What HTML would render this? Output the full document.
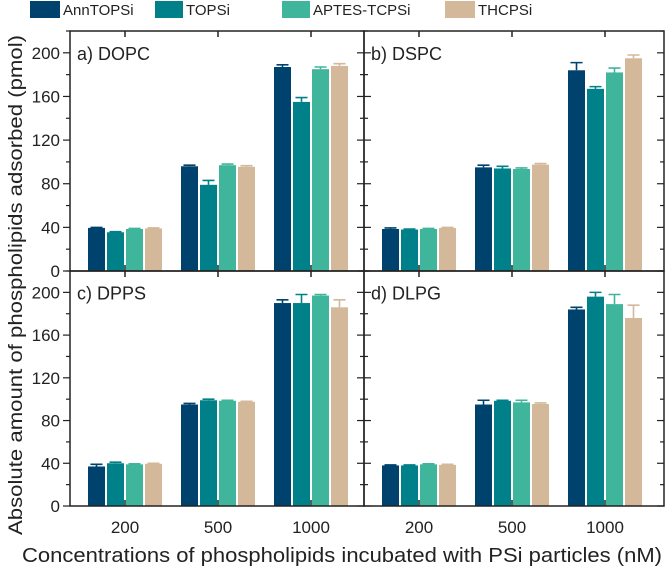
<!DOCTYPE html>
<html><head><meta charset="utf-8"><style>
body{margin:0;background:#fff}
svg{display:block;font-family:"Liberation Sans",sans-serif}
</style></head><body>
<svg id="chart" width="666" height="570" viewBox="0 0 666 570"></svg>
<script>
const categories=["200","500","1000"];
const seriesNames=["AnnTOPSi","TOPSi","APTES-TCPSi","THCPSi"];
const colors=["#00426e","#008088","#3fb59c","#d3b89a"];
const panelTitles=["a) DOPC","b) DSPC","c) DPPS","d) DLPG"];
const yTicks=[0,40,80,120,160,200];
// values[panel][series][category]
const dopcValues=[[39.5,96,187],[35.5,79,155],[38.5,97,185],[39,95.5,188]];
const dopcErrors=[[0.5,1,2],[0.5,4,4],[0.5,1,2],[0.5,1,2]];
const dspcValues=[[38.5,95,184],[38,94,167],[38.5,93.5,182],[39.5,97.5,195]];
const dspcErrors=[[1,2,7],[0.5,2,2],[0.5,1,4],[0.5,1,3]];
const dppsValues=[[37,95,190],[40,99,190],[39,98.5,197],[39.5,97.5,186]];
const dppsErrors=[[2,1,3],[1,1,8],[0.5,0.5,1],[0.5,0.5,7]];
const dlpgValues=[[38,95,184],[38,98.5,196],[39,97,189],[38.5,95.5,176]];
const dlpgErrors=[[0.5,4,2],[0.5,0.5,4],[0.5,2,9],[0.5,1,12]];
const allValues=[dopcValues,dspcValues,dppsValues,dlpgValues];
const allErrors=[dopcErrors,dspcErrors,dppsErrors,dlpgErrors];

const NS="http://www.w3.org/2000/svg";
const svg=document.getElementById('chart');
function mk(tag,attrs,parent){const e=document.createElementNS(NS,tag);for(const k in attrs)e.setAttribute(k,attrs[k]);(parent||svg).appendChild(e);return e;}

const panels=[
 {x0:70,x1:364,y0:31,y1:271},
 {x0:364,x1:664,y0:31,y1:271},
 {x0:70,x1:364,y0:271,y1:506},
 {x0:364,x1:664,y0:271,y1:506}];
const yMax=220;
panels.forEach((p,pi)=>{
  const g=mk('g',{});
  
  
  const yS=v=>p.y1-(v/yMax)*(p.y1-p.y0);
  const xC=i=>p.x0+55+i*93;
  const bw=17,gap=2;
  allValues[pi].forEach((ser,si)=>{
    ser.forEach((v,ci)=>{
      const cx=xC(ci)-2*bw-1.5*gap+si*(bw+gap);
      const r=mk('rect',{x:cx,y:yS(v),width:bw,height:p.y1-yS(v),fill:colors[si]},g);
      
      
      const e=allErrors[pi][si][ci];
      const mx=cx+bw/2;
      const eg=mk('path',{d:`M${mx},${yS(v)}V${yS(v+e)}M${mx-6},${yS(v+e)}H${mx+6}`,stroke:colors[si],'stroke-width':1.6,fill:'none'},g);
      
      
    });
  });
  const fr=mk('rect',{x:p.x0,y:p.y0,width:p.x1-p.x0,height:p.y1-p.y0,fill:'none',stroke:'#222','stroke-width':1.5},g);
  
  
  const left=(pi%2===0);
  for(let v=0;v<=220;v+=20){
    const y=yS(v); const len=(v%40===0)?7:4;
    mk('line',{x1:p.x0,x2:p.x0+(left?-len:len),y1:y,y2:y,stroke:'#222','stroke-width':1.2},g);
    mk('line',{x1:p.x1,x2:p.x1-len,y1:y,y2:y,stroke:'#222','stroke-width':1.2},g);
  }
  if(left){
    yTicks.forEach(v=>{
      const t=mk('text',{x:p.x0-10,y:yS(v)+6,'text-anchor':'end','font-size':17,fill:'#222'},g);
      t.textContent=v;
      
      
    });
  }
  categories.forEach((c,ci)=>{
    mk('line',{x1:xC(ci),x2:xC(ci),y1:p.y1,y2:p.y1-6,stroke:'#222','stroke-width':1.5},g);
    mk('line',{x1:xC(ci),x2:xC(ci),y1:p.y0,y2:p.y0+6,stroke:'#222','stroke-width':1.5},g);
    if(pi>=2){
      const t=mk('text',{x:xC(ci),y:533,'text-anchor':'middle','font-size':17,fill:'#222'},g);
      t.textContent=c;
      
      
    }
  });
  const tt=mk('text',{x:p.x0+7,y:yS(200)+7,'font-size':18,fill:'#222'},g);
  tt.textContent=panelTitles[pi];
  
  
});
const legX=[30,155,282,445];
const legW=[30,28,28,30];
seriesNames.forEach((n,i)=>{
  const g=mk('g',{});
  
  
  mk('rect',{x:legX[i],y:1,width:legW[i],height:17,fill:colors[i]},g);
  const t=mk('text',{x:legX[i]+legW[i]+3,y:15,'font-size':15,fill:'#222'},g);
  t.textContent=n;
});
const yl=mk('text',{x:0,y:0,transform:'translate(22,285) rotate(-90)','text-anchor':'middle','font-size':19,fill:'#222',textLength:500,lengthAdjust:'spacingAndGlyphs'});
yl.textContent='Absolute amount of phospholipids adsorbed (pmol)';


const xl=mk('text',{x:342,y:562,'text-anchor':'middle','font-size':20,fill:'#222',textLength:640,lengthAdjust:'spacingAndGlyphs'});
xl.textContent='Concentrations of phospholipids incubated with PSi particles (nM)';


</script>
</body></html>
